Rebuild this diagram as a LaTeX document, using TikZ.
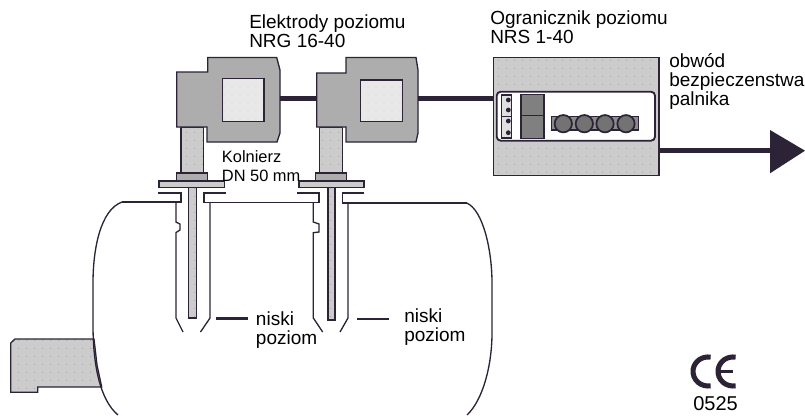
\documentclass[tikz,border=0pt]{standalone}
\usepackage{fontspec}
\setmainfont{Liberation Sans}
\usetikzlibrary{patterns.meta}
\definecolor{ink}{RGB}{45,35,55}
\tikzset{
  line/.style={draw=ink, line width=1pt},
  head/.style={line, fill=black!32},
  light/.style={line, preaction={fill=black!20}, pattern={Dots[distance=6pt, radius=.35pt, xshift=2pt, yshift=2pt]}, pattern color=black!45},
  pane/.style={line, preaction={fill=black!9}, pattern={Dots[distance=6pt, radius=.35pt]}, pattern color=black!30},
  dark/.style={line, fill=black!50},
  wire/.style={ink, line width=3.6pt},
  lbl/.style={anchor=base west, inner sep=0pt, align=left, font=\fontsize{14.25}{14.25}\selectfont},
  small/.style={lbl, font=\fontsize{12.3}{14.25}\selectfont},
  knob/.style={circle, line, line width=1.3pt, fill=black!55, minimum size=13pt, inner sep=0pt},
  term/.style={circle, fill=ink, minimum size=3.6pt, inner sep=0pt}
}
\begin{document}
\begin{tikzpicture}[x=0.75pt, y=-0.75pt]
        \useasboundingbox (0,0) rectangle (805,415);
        % boiler, stub and drum
        \draw[light] (10.7,343) -- (15,339) -- (94,339) -- (97,365) -- (101.7,387) -- (37.7,387) -- (37.7,392.3) -- (10.7,392.3) -- cycle;
        \draw[line] (122,202) .. controls (100,210) and (93,250) .. (93,283) -- (93,325) .. controls (93,365) and (100,400) .. (118,415);
        \draw[line] (466.7,203) .. controls (483,210) and (492,250) .. (492,283) -- (492,333) .. controls (492,365) and (483,400) .. (467,415);
        \draw[line] (122,202) -- (181,202) -- (181,193) -- (158,193);
        \draw[line] (226,193) -- (204,193) -- (204,202.5) -- (319,202.5) -- (319,193) -- (297.3,193);
        \draw[line] (364.3,193) -- (342.7,193) -- (342.7,203) -- (466.7,203);
        % left electrode
        \draw[line] (176,202) -- (176,222) -- (180,224) -- (180,230) -- (176,232.5) -- (176,318) -- (183,332);
        \draw[line] (210,202) -- (210,318) -- (200.5,332);
        \draw[light] (188.3,187.7) rectangle (196.7,318);
        \draw[light] (181,127) rectangle (203.7,173);
        \draw[head] (176.7,173) rectangle (207.7,181);
        \draw[light] (159,181) rectangle (224.3,187.7);
        \draw[head] (176.7,72) -- (207.7,72) -- (207.7,57.5) -- (276.7,57.5) -- (280,70) -- (280,133) -- (277,142) -- (207,142) -- (207,127) -- (176.7,127) -- cycle;
        \draw[pane] (222.3,78.3) rectangle (264,121.7);
        % right electrode
        \draw[line] (313.3,202.5) -- (313.3,222) -- (319,224) -- (319,232) -- (313.3,232.7) -- (313.3,318) -- (322.7,332);
        \draw[line] (348,203) -- (348,318) -- (340,332);
        \draw[light] (328,187.3) rectangle (335,320);
        \draw[light] (319.3,127) rectangle (342.3,173);
        \draw[head] (315.3,173) rectangle (346.7,181);
        \draw[light] (299,181) rectangle (364,187.7);
        \draw[head] (316.7,73) -- (346,73) -- (346,57.5) -- (416,57.5) -- (418,70) -- (418,133) -- (416,142) -- (346,142) -- (346,127) -- (316.7,127) -- cycle;
        \draw[pane] (360.7,80) rectangle (402.7,121.7);
        % limiter
        \draw[light] (493.3,57.3) rectangle (659,175.7);
        \draw[line, line width=1.4pt, fill=white, rounded corners=3pt] (496.7,91.7) rectangle (655,140.7);
        \draw[line, fill=black!12] (501.7,95) rectangle (511.7,138);
        \draw[line] (501.7,116.7) -- (511.7,116.7);
        \node[term] (ta) at (508.3,100) {};
        \node[term] (tb) at (508.3,110) {};
        \node[term] (tc) at (508.3,121) {};
        \node[term] (td) at (508.3,132.7) {};
        \draw[dark] (521,94.3) rectangle (544,115.7);
        \draw[dark] (521,115.7) rectangle (544,138.3);
        \draw[line, fill=black!45] (551.7,116.7) rectangle (638.3,130);
        \node[knob] (ka) at (563.3,123.7) {};
        \node[knob] (kb) at (584.3,123.7) {};
        \node[knob] (kc) at (605,123.7) {};
        \node[knob] (kd) at (626,123.7) {};
        % wires
        \coordinate (ha) at (280,98.3);
        \coordinate (hb) at (316.7,98.3);
        \coordinate (hc) at (418,98.3);
        \coordinate (la) at (493.3,98.3);
        \coordinate (lb) at (659,150.7);
        \coordinate (tipbase) at (770,150.7);
        \coordinate (tip) at (805,150.7);
        \coordinate (tipa) at (770,130);
        \coordinate (tipb) at (770,173.3);
        \draw[wire] (ha) -- (hb) (hc) -- (la) (lb) -- (tipbase);
        \fill[ink] (tipa) -- (tip) -- (tipb) -- cycle;
        % level marks
        \coordinate (ma) at (216,318.5);
        \coordinate (mb) at (248,318.5);
        \coordinate (mc) at (357.3,318.7);
        \coordinate (md) at (389.3,318.7);
        \draw[ink, line width=1.7pt] (ma) -- (mb) (mc) -- (md);
        % CE
        \draw[ink, line width=3.8pt] (710.6,357.2) arc (-80:-280:15 and 14.5);
        \draw[ink, line width=3.8pt] (735.6,357.2) arc (-80:-280:15 and 14.5);
        \draw[ink, line width=2.6pt] (718,371.5) -- (733,371.5);
        % labels
        \node[lbl] (elek) at (249,47) {Elektrody poziomu\\NRG 16-40};
        \node[lbl] (ogr) at (490,43.3) {Ogranicznik poziomu\\NRS 1-40};
        \node[lbl] (obw) at (669,105.7) {obwód\\bezpieczenstwa\\palnika};
        \node[small] (koln) at (221.7,181) {Kolnierz\\DN 50 mm};
        \node[lbl] (nisa) at (255.7,344) {niski\\poziom};
        \node[lbl] (nisb) at (404,341.7) {niski\\poziom};
        \node[lbl, font=\fontsize{15}{15}\selectfont] (nr) at (693,410) {0525};
    \end{tikzpicture}
\end{document}
